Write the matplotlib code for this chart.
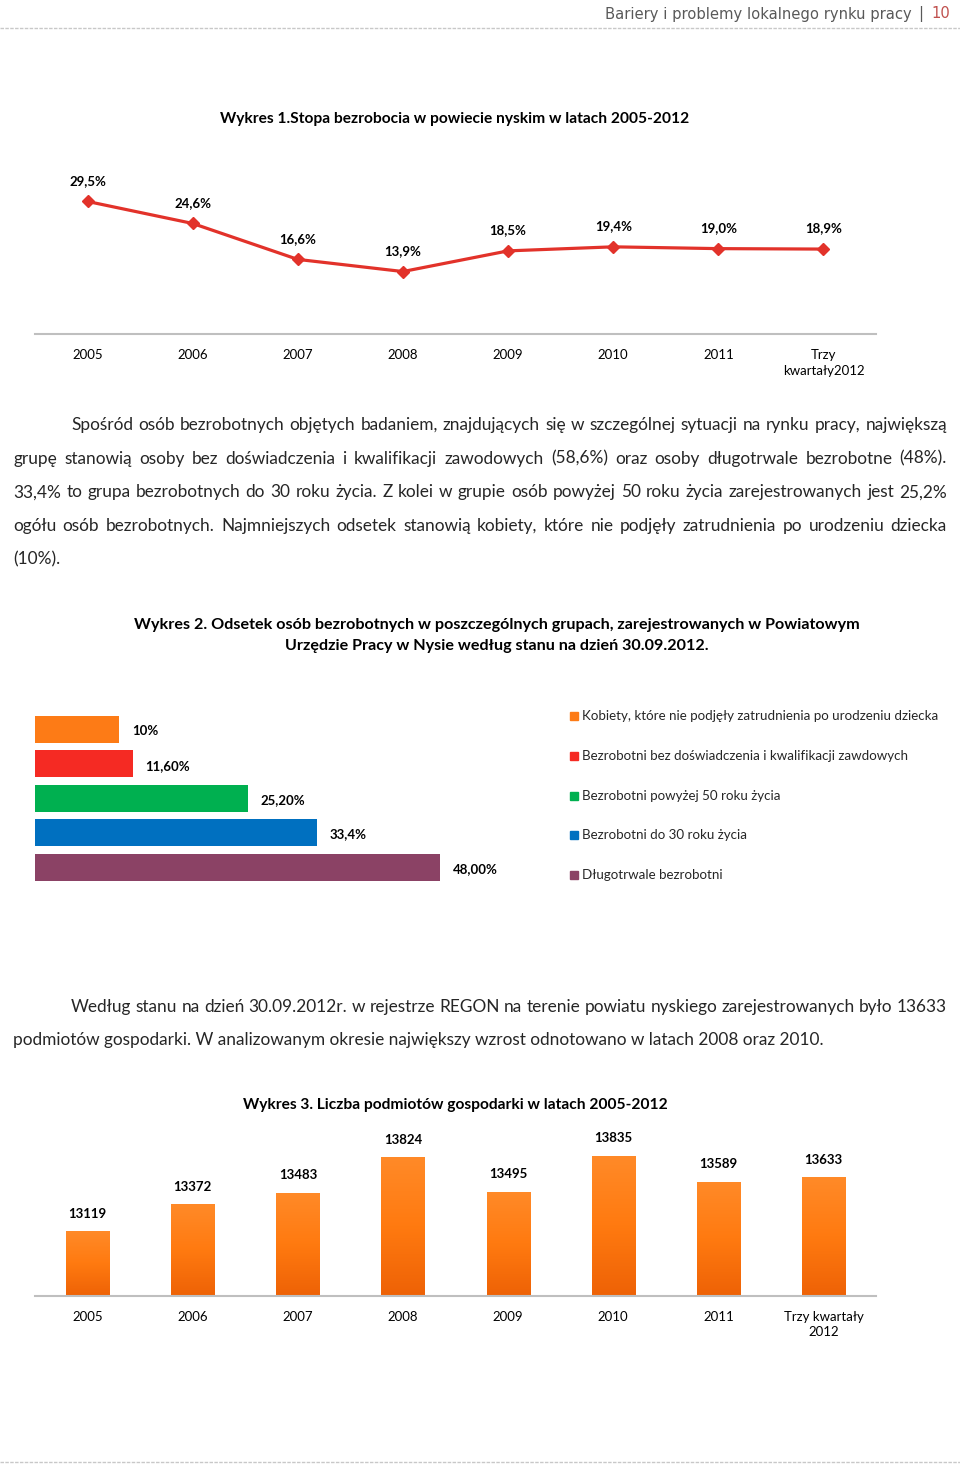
import numpy as np
import matplotlib.pyplot as plt
from matplotlib.patches import Rectangle
from matplotlib.lines import Line2D
from matplotlib.colors import LinearSegmentedColormap

plt.rcParams['font.family'] = ['Lato', 'DejaVu Sans']

# --- dane ---
lata = ['2005', '2006', '2007', '2008', '2009', '2010', '2011', 'Trzy\nkwartały2012']
stopa = [29.5, 24.6, 16.6, 13.9, 18.5, 19.4, 19.0, 18.9]
stopa_etykiety = ['29,5%', '24,6%', '16,6%', '13,9%', '18,5%', '19,4%', '19,0%', '18,9%']

grupy = ['Kobiety, które nie podjęły zatrudnienia po urodzeniu dziecka',
         'Bezrobotni bez doświadczenia i kwalifikacji zawdowych',
         'Bezrobotni powyżej 50 roku życia',
         'Bezrobotni do 30 roku życia',
         'Długotrwale bezrobotni']
odsetek = [10.0, 11.6, 25.2, 33.4, 48.0]
odsetek_etykiety = ['10%', '11,60%', '25,20%', '33,4%', '48,00%']
kolory_grup = ['#FD7B16', '#F52A23', '#00B050', '#0070C0', '#8B4265']

lata3 = ['2005', '2006', '2007', '2008', '2009', '2010', '2011', 'Trzy kwartały\n2012']
podmioty = [13119, 13372, 13483, 13824, 13495, 13835, 13589, 13633]

akapit1 = ['Spośród osób bezrobotnych objętych badaniem, znajdujących się w szczególnej sytuacji na rynku pracy, największą',
           'grupę stanowią osoby bez doświadczenia i kwalifikacji zawodowych (58,6%) oraz osoby długotrwale bezrobotne (48%).',
           '33,4% to grupa bezrobotnych do 30 roku życia. Z kolei w grupie osób powyżej 50 roku życia zarejestrowanych jest 25,2%',
           'ogółu osób bezrobotnych. Najmniejszych odsetek stanowią kobiety, które nie podjęły zatrudnienia po urodzeniu dziecka',
           '(10%).']
akapit2 = ['Według stanu na dzień 30.09.2012r. w rejestrze REGON na terenie powiatu nyskiego zarejestrowanych było 13633',
           'podmiotów gospodarki. W analizowanym okresie największy wzrost odnotowano w latach 2008 oraz 2010.']

W, H = 960, 1464
fig = plt.figure(figsize=(W / 100, H / 100), dpi=100)


def fx(x):
    return x / W


def fy(y):
    return 1 - y / H


def osie(x0, y0, x1, y1):
    return fig.add_axes([fx(x0), fy(y1), (x1 - x0) / W, (y1 - y0) / H])


# naglowek strony
fig.text(fx(912), fy(14), 'Bariery i problemy lokalnego rynku pracy', ha='right', va='center',
         fontsize=10.6, color='#595959', family='DejaVu Sans')
fig.text(fx(921), fy(14), '|', ha='center', va='center', fontsize=10.6, color='#595959', family='DejaVu Sans')
fig.text(fx(931), fy(14), '10', ha='left', va='center', fontsize=10.6, color='#C0504D', family='DejaVu Sans')
for yy in (28, 1462):
    fig.add_artist(Line2D([0, 1], [fy(yy), fy(yy)], color='#C8C8C8', lw=1, ls=(0, (2.5, 1))))

# --- Wykres 1 ---
fig.text(fx(455), fy(119), 'Wykres 1.Stopa bezrobocia w powiecie nyskim w latach 2005-2012',
         ha='center', va='center', fontsize=11.2, fontweight='bold')
ax1 = osie(35, 170, 876, 334)
x = np.arange(len(lata))
ax1.plot(x, stopa, color='#E2322A', lw=2.3, marker='D', ms=6.5)
for xi, v, t in zip(x, stopa, stopa_etykiety):
    ax1.annotate(t, (xi, v), xytext=(0, 15), textcoords='offset points', ha='center', va='center',
                 fontsize=9.5, fontweight='bold')
ax1.set_xlim(-0.5, 7.5)
ax1.set_ylim(0, 36.5)
ax1.set_xticks(x)
ax1.set_xticklabels(lata, fontsize=9.5, linespacing=1.45)
ax1.set_yticks([])
ax1.tick_params(axis='x', length=0, pad=10.5)
for s in ['top', 'left', 'right']:
    ax1.spines[s].set_visible(False)
ax1.spines['bottom'].set_color('#BFBFBF')
ax1.spines['bottom'].set_linewidth(1.5)


# --- tekst wyjustowany ---
def justuj(linie, y0, dy, lewo, wciecie, prawo, size=12.4):
    r = fig.canvas.get_renderer()
    for i, linia in enumerate(linie):
        x0 = wciecie if i == 0 else lewo
        y = fy(y0 + i * dy)
        if i == len(linie) - 1:
            fig.text(fx(x0), y, linia, ha='left', va='center', fontsize=size, color='#262626')
            continue
        slowa = linia.split(' ')
        teksty = [fig.text(0, y, s, ha='left', va='center', fontsize=size, color='#262626') for s in slowa]
        szer = [t.get_window_extent(r).width for t in teksty]
        odstep = (prawo - x0 - sum(szer)) / (len(slowa) - 1)
        pos = x0
        for t, w in zip(teksty, szer):
            t.set_x(fx(pos))
            pos += w + odstep


justuj(akapit1, 425, 33.7, 13, 71, 947)

# --- Wykres 2 ---
fig.text(fx(497), fy(625), 'Wykres 2. Odsetek osób bezrobotnych w poszczególnych grupach, zarejestrowanych w Powiatowym',
         ha='center', va='center', fontsize=11.6, fontweight='bold')
fig.text(fx(497), fy(646), 'Urzędzie Pracy w Nysie według stanu na dzień 30.09.2012.',
         ha='center', va='center', fontsize=11.6, fontweight='bold')
ax2 = osie(35, 712.3, 540, 884.3)
y2 = np.arange(len(grupy))
ax2.barh(y2, odsetek, height=0.79, color=kolory_grup)
for yi, v, t in zip(y2, odsetek, odsetek_etykiety):
    ax2.text(v + 1.5, yi + 0.05, t, ha='left', va='center', fontsize=9.5, fontweight='bold')
ax2.set_xlim(0, 505 / 8.44)
ax2.set_ylim(4.5, -0.5)
ax2.axis('off')
leg_y = [716, 756, 796, 835, 875]
for ly, g, k in zip(leg_y, grupy, kolory_grup):
    fig.add_artist(Rectangle((fx(570), fy(ly + 4)), 8 / W, 8 / H, color=k))
    fig.text(fx(582), fy(ly), g, ha='left', va='center', fontsize=9.6, color='#262626')

justuj(akapit2, 1007, 33.5, 13, 71, 947)

# --- Wykres 3 ---
fig.text(fx(455), fy(1105), 'Wykres 3. Liczba podmiotów gospodarki w latach 2005-2012',
         ha='center', va='center', fontsize=11.2, fontweight='bold')
ax3 = osie(35, 1138.5, 876, 1296)
x3 = np.arange(len(lata3))
slupki = ax3.bar(x3, podmioty, width=0.41, bottom=0, color='#F77410', edgecolor='#E56A10', lw=0.6)
grad = LinearSegmentedColormap.from_list('pom', ['#EE6206', '#FF7A10', '#FF8A28'])
for b in slupki:
    bx, bw, bh = b.get_x(), b.get_width(), b.get_height()
    im = ax3.imshow(np.linspace(0, 1, 100).reshape(-1, 1), cmap=grad, origin='lower', aspect='auto',
                    extent=[bx, bx + bw, 12500, bh], zorder=2)
    im.set_clip_path(b)
for xi, v in zip(x3, podmioty):
    ax3.annotate(str(v), (xi, v), xytext=(0, 12.5), textcoords='offset points', ha='center', va='center',
                 fontsize=9.5, fontweight='bold')
ax3.set_xlim(-0.5, 7.5)
ax3.set_ylim(12500, 14000)
ax3.set_xticks(x3)
ax3.set_xticklabels(lata3, fontsize=9.5, linespacing=1.3)
ax3.set_yticks([])
ax3.tick_params(axis='x', length=0, pad=10.5)
for s in ['top', 'left', 'right']:
    ax3.spines[s].set_visible(False)
ax3.spines['bottom'].set_color('#BFBFBF')
ax3.spines['bottom'].set_linewidth(1.5)

fig.savefig('out.png', dpi=100)
